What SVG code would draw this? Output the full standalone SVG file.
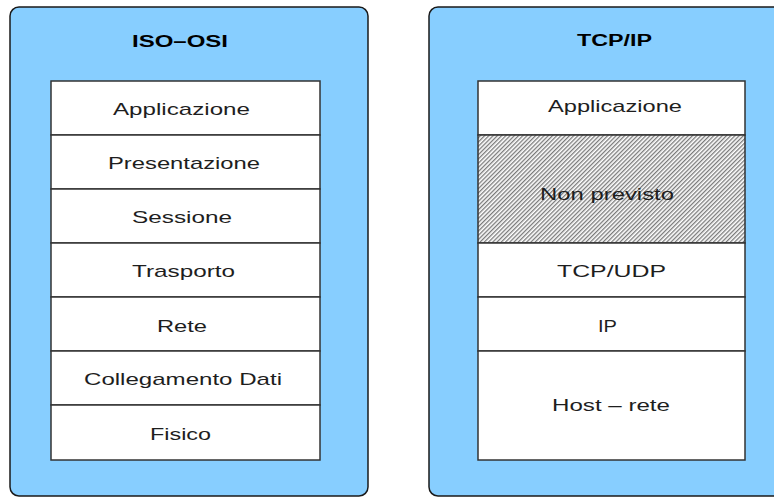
<svg xmlns="http://www.w3.org/2000/svg" width="774" height="498" viewBox="0 0 774 498">
  <style>
    .panel { fill: #87CEFF; stroke: #1a1a1a; stroke-width: 1.5; }
    .layer { fill: #ffffff; stroke: #333333; stroke-width: 1.5; }
    .hatched { fill: url(#hatch); stroke: #333333; stroke-width: 1.5; }
    .title { font-family: "Liberation Sans", Arial, sans-serif; font-size: 16px; font-weight: bold; fill: #000; text-anchor: middle; }
    .label { font-family: "Liberation Sans", Arial, sans-serif; font-size: 17px; fill: #1e1e1e; text-anchor: middle; }
  </style>
  <defs>
    <pattern id="hatch" patternUnits="userSpaceOnUse" width="3" height="3" patternTransform="rotate(45)">
      <rect width="3" height="3" fill="#ffffff"/>
      <rect x="0" y="0" width="1.3" height="3" fill="#7a7a7a"/>
    </pattern>
  </defs>

  <!-- ISO-OSI stack -->
  <g id="iso-osi">
    <rect class="panel" x="10" y="7" width="358" height="489" rx="9"/>
    <text class="title" x="180" y="47" textLength="96" lengthAdjust="spacingAndGlyphs">ISO–OSI</text>
    <g id="iso-applicazione">
      <rect class="layer" x="51" y="81" width="269" height="54"/>
      <text class="label" x="181.5" y="115" textLength="137" lengthAdjust="spacingAndGlyphs">Applicazione</text>
    </g>
    <g id="iso-presentazione">
      <rect class="layer" x="51" y="135" width="269" height="54"/>
      <text class="label" x="184" y="169" textLength="152" lengthAdjust="spacingAndGlyphs">Presentazione</text>
    </g>
    <g id="iso-sessione">
      <rect class="layer" x="51" y="189" width="269" height="54"/>
      <text class="label" x="182" y="223" textLength="100" lengthAdjust="spacingAndGlyphs">Sessione</text>
    </g>
    <g id="iso-trasporto">
      <rect class="layer" x="51" y="243" width="269" height="54"/>
      <text class="label" x="183.5" y="277" textLength="103" lengthAdjust="spacingAndGlyphs">Trasporto</text>
    </g>
    <g id="iso-rete">
      <rect class="layer" x="51" y="297" width="269" height="54"/>
      <text class="label" x="182" y="331.5" textLength="50" lengthAdjust="spacingAndGlyphs">Rete</text>
    </g>
    <g id="iso-collegamento">
      <rect class="layer" x="51" y="351" width="269" height="54"/>
      <text class="label" x="183" y="385" textLength="198" lengthAdjust="spacingAndGlyphs">Collegamento Dati</text>
    </g>
    <g id="iso-fisico">
      <rect class="layer" x="51" y="405" width="269" height="55"/>
      <text class="label" x="180.5" y="440" textLength="61" lengthAdjust="spacingAndGlyphs">Fisico</text>
    </g>
  </g>

  <!-- TCP/IP stack -->
  <g id="tcp-ip">
    <rect class="panel" x="429" y="7" width="360" height="489" rx="9"/>
    <text class="title" x="614.5" y="46" textLength="75" lengthAdjust="spacingAndGlyphs">TCP/IP</text>
    <g id="tcp-applicazione">
      <rect class="layer" x="478" y="81" width="267" height="54"/>
      <text class="label" x="615" y="111.5" textLength="134" lengthAdjust="spacingAndGlyphs">Applicazione</text>
    </g>
    <g id="tcp-non-previsto">
      <rect class="hatched" x="478" y="135" width="267" height="108"/>
      <text class="label" x="607" y="200" textLength="134" lengthAdjust="spacingAndGlyphs">Non previsto</text>
    </g>
    <g id="tcp-tcpudp">
      <rect class="layer" x="478" y="243" width="267" height="54"/>
      <text class="label" x="611.5" y="277" textLength="109" lengthAdjust="spacingAndGlyphs">TCP/UDP</text>
    </g>
    <g id="tcp-ip-layer">
      <rect class="layer" x="478" y="297" width="267" height="54"/>
      <text class="label" x="607.5" y="332" textLength="19" lengthAdjust="spacingAndGlyphs">IP</text>
    </g>
    <g id="tcp-host-rete">
      <rect class="layer" x="478" y="351" width="267" height="109"/>
      <text class="label" x="611" y="410.5" textLength="118" lengthAdjust="spacingAndGlyphs">Host – rete</text>
    </g>
  </g>
</svg>
